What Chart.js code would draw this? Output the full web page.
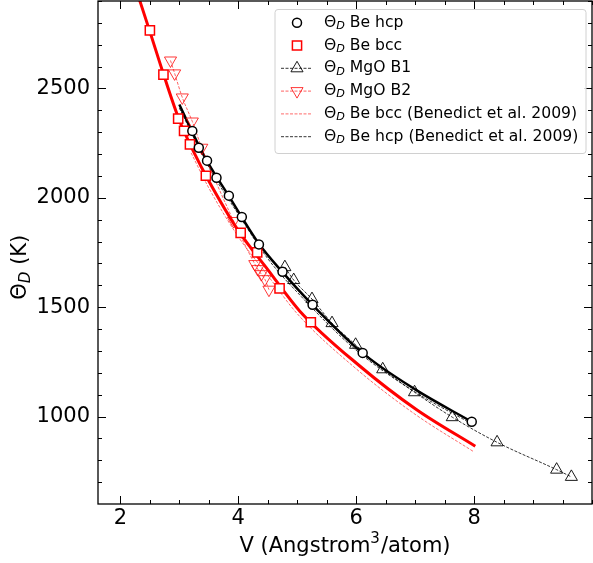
<!DOCTYPE html>
<html>
<head>
<meta charset="utf-8">
<script src="https://cdn.jsdelivr.net/npm/chart.js@4.4.0/dist/chart.umd.min.js"></script>
<style>
  body { margin: 0; background: #fff; }
  canvas { display: block; }
</style>
</head>
<body>
<canvas id="debyeChart" width="593" height="563"></canvas>
<script>
// Be hcp (open circles) and its fit line
const hcpV = [3.22, 3.33, 3.47, 3.63, 3.84, 4.06, 4.35, 4.75, 5.26, 6.11, 7.96];
const hcpTheta = [2306, 2229, 2170, 2092, 2010, 1912, 1787, 1662, 1511, 1291, 976];
const hcpFitV = [3.0, 3.22, 3.47, 3.84, 4.35, 4.75, 5.26, 6.11, 7.0, 7.96];
const hcpFitTheta = [2427, 2300, 2168, 2008, 1790, 1660, 1510, 1290, 1124, 976];

// Be bcc (open squares) and its fit line
const bccV = [2.50, 2.73, 2.98, 3.08, 3.18, 3.45, 4.04, 4.32, 4.70, 5.23];
const bccTheta = [2766, 2563, 2362, 2306, 2244, 2101, 1840, 1751, 1586, 1431];
const bccFitV = [2.27, 2.5, 2.75, 3.0, 3.25, 3.5, 4.0, 4.5, 5.04, 6.06, 7.02, 8.02];
const bccFitTheta = [2950, 2760, 2550, 2355, 2207, 2077, 1850, 1672, 1483, 1231, 1032, 864];

// MgO
const mgoB1V = [4.79, 4.94, 5.25, 5.59, 5.99, 6.45, 6.99, 7.63, 8.39, 9.40, 9.65];
const mgoB1Theta = [1683, 1624, 1537, 1427, 1328, 1216, 1111, 997, 882, 757, 724];
const mgoB2V = [2.85, 2.92, 3.05, 3.22, 3.38, 3.92, 4.28, 4.33, 4.39, 4.45, 4.52];
const mgoB2Theta = [2628, 2569, 2459, 2349, 2229, 1894, 1697, 1674, 1651, 1628, 1580];

// Benedict et al. 2009
const benBccV = [3.2, 3.5, 4.0, 4.5, 5.0, 6.0, 7.0, 8.0];
const benBccTheta = [2205, 2045, 1822, 1645, 1470, 1218, 1010, 838];
const benHcpV = [3.0, 3.5, 4.0, 4.5, 5.0, 6.0, 7.0, 7.95];
const benHcpTheta = [2410, 2140, 1925, 1722, 1568, 1303, 1112, 968];

const xTicks = [2, 4, 6, 8];
const yTicks = [1000, 1500, 2000, 2500];
const legendLabels = ['Be hcp', 'Be bcc', 'MgO B1', 'MgO B2',
  'Be bcc (Benedict et al. 2009)', 'Be hcp (Benedict et al. 2009)'];

const FONT = "'DejaVu Sans', sans-serif";
const pinkRed = 'rgba(255, 0, 0, 0.65)';
const b2Red = 'rgba(255, 0, 0, 0.78)';

function pts(xs, ys) {
  return xs.map((v, i) => ({ x: v, y: ys[i] }));
}

const datasets = [
  { data: pts(hcpV, hcpTheta), showLine: false, pointStyle: 'circle', pointRadius: 4.5,
    borderColor: '#000', backgroundColor: '#fff', pointBorderWidth: 1.5 },
  { data: pts(bccV, bccTheta), showLine: false, pointStyle: 'rect', pointRadius: 6.5,
    borderColor: '#ff0000', backgroundColor: '#fff', pointBorderWidth: 1.5 },
  { data: pts(mgoB1V, mgoB1Theta), showLine: true, pointStyle: 'triangle', pointRadius: 7,
    borderColor: '#000', backgroundColor: 'rgba(0,0,0,0)', borderWidth: 0.8,
    pointBorderWidth: 0.9, borderDash: [3, 1.5] },
  { data: pts(mgoB2V, mgoB2Theta), showLine: true, pointStyle: 'triangle', pointRotation: 180,
    pointRadius: 7, borderColor: b2Red, backgroundColor: 'rgba(0,0,0,0)', borderWidth: 0.8,
    pointBorderWidth: 1, borderDash: [3, 1.5] },
  { data: pts(benBccV, benBccTheta), showLine: true, pointRadius: 0, borderColor: pinkRed,
    borderWidth: 0.9, borderDash: [3, 1.5] },
  { data: pts(benHcpV, benHcpTheta), showLine: true, pointRadius: 0, borderColor: '#000',
    borderWidth: 0.8, borderDash: [3, 1.5] },
  { data: pts(hcpFitV, hcpFitTheta), showLine: true, pointRadius: 0, borderColor: '#000',
    borderWidth: 2.5 },
  { data: pts(bccFitV, bccFitTheta), showLine: true, pointRadius: 0, borderColor: '#ff0000',
    borderWidth: 3 }
];
datasets.forEach(d => { d.tension = 0.4; d.cubicInterpolationMode = 'monotone'; d.fill = false; });

// "Θ" + italic subscript "D" + rest
function drawThetaD(ctx, x, y, size, rest) {
  ctx.font = size + 'px ' + FONT;
  ctx.fillText('\u0398', x, y);
  let w = ctx.measureText('\u0398').width;
  ctx.font = 'italic ' + (size * 0.72).toFixed(1) + 'px ' + FONT;
  ctx.fillText('D', x + w, y + size * 0.22);
  w += ctx.measureText('D').width;
  ctx.font = size + 'px ' + FONT;
  ctx.fillText(rest, x + w, y);
  return w + ctx.measureText(rest).width;
}

const framePlugin = {
  id: 'frameTicks',
  afterDraw(chart) {
    const { ctx, chartArea: a, scales: { x, y } } = chart;
    ctx.save();
    ctx.strokeStyle = '#000';
    ctx.lineWidth = 1;
    ctx.beginPath();
    for (let v = 2; v <= x.max; v += 0.5) {
      const px = Math.round(x.getPixelForValue(v)) + 0.5;
      const len = xTicks.includes(v) ? 8 : 4;
      ctx.moveTo(px, a.bottom); ctx.lineTo(px, a.bottom - len);
      ctx.moveTo(px, a.top); ctx.lineTo(px, a.top + len);
    }
    for (let v = 700; v <= y.max; v += 100) {
      const py = Math.round(y.getPixelForValue(v)) + 0.5;
      const len = yTicks.includes(v) ? 8 : 4;
      ctx.moveTo(a.left, py); ctx.lineTo(a.left + len, py);
      ctx.moveTo(a.right, py); ctx.lineTo(a.right - len, py);
    }
    ctx.stroke();
    ctx.lineWidth = 1.3;
    ctx.strokeRect(a.left, a.top, a.right - a.left, a.bottom - a.top);

    // axis titles
    ctx.fillStyle = '#000';
    ctx.textBaseline = 'middle';
    ctx.textAlign = 'left';
    const xt1 = 'V (Angstrom', xt2 = '/atom)';
    ctx.font = '21px ' + FONT;
    const w1 = ctx.measureText(xt1).width, w3 = ctx.measureText(xt2).width;
    ctx.font = '15px ' + FONT;
    const w2 = ctx.measureText('3').width + 1;
    let tx = (a.left + a.right) / 2 - (w1 + w2 + w3) / 2;
    ctx.font = '21px ' + FONT;
    ctx.fillText(xt1, tx, 547);
    ctx.font = '15px ' + FONT;
    ctx.fillText('3', tx + w1, 539);
    ctx.font = '21px ' + FONT;
    ctx.fillText(xt2, tx + w1 + w2, 547);

    ctx.save();
    ctx.translate(21, 268);
    ctx.rotate(-Math.PI / 2);
    ctx.font = '21px ' + FONT;
    const tw = ctx.measureText('\u0398 (K)').width + 10;
    drawThetaD(ctx, -tw / 2, 0, 21, ' (K)');
    ctx.restore();

    // legend
    const bx = 275, by = 9.5, bw = 311, bh = 144;
    ctx.fillStyle = 'rgba(255,255,255,0.85)';
    ctx.strokeStyle = '#d0d0d0';
    ctx.lineWidth = 1;
    ctx.beginPath();
    ctx.roundRect(bx, by, bw, bh, 3);
    ctx.fill();
    ctx.stroke();
    legendLabels.forEach((lab, i) => {
      const ds = chart.data.datasets[i];
      const ry = 22.7 + i * 22.8;
      if (ds.showLine) {
        ctx.save();
        ctx.strokeStyle = ds.borderColor;
        ctx.lineWidth = ds.borderWidth;
        ctx.setLineDash(ds.borderDash || []);
        ctx.beginPath();
        ctx.moveTo(281, ry); ctx.lineTo(312, ry);
        ctx.stroke();
        ctx.restore();
      }
      if (ds.pointRadius > 0) {
        ctx.save();
        ctx.strokeStyle = ds.borderColor;
        ctx.fillStyle = ds.backgroundColor;
        ctx.lineWidth = ds.pointBorderWidth;
        Chart.helpers.drawPoint(ctx, {
          pointStyle: ds.pointStyle, radius: ds.pointRadius,
          rotation: ds.pointRotation || 0, borderWidth: ds.pointBorderWidth
        }, 297, ry);
        ctx.restore();
      }
      ctx.fillStyle = '#000';
      ctx.textBaseline = 'middle';
      drawThetaD(ctx, 324, ry, 15.6, ' ' + lab);
    });
    ctx.restore();
  }
};

function noPadding(s) {
  s.paddingTop = 0; s.paddingBottom = 0; s.paddingLeft = 0; s.paddingRight = 0;
}

const config = {
  type: 'scatter',
  data: { datasets: datasets },
  options: {
    responsive: false,
    animation: false,
    layout: { autoPadding: false, padding: { top: 1, right: 1, left: 0, bottom: 0 } },
    plugins: { legend: { display: false }, tooltip: { enabled: false } },
    scales: {
      x: {
        type: 'linear', min: 1.62, max: 10,
        grid: { display: false, drawTicks: false }, border: { display: false },
        afterBuildTicks: s => { s.ticks = xTicks.map(v => ({ value: v })); },
        afterFit: s => { s.height = 59; noPadding(s); },
        ticks: { color: '#000', padding: 2, font: { size: 21, family: FONT },
          callback: v => String(v) }
      },
      y: {
        type: 'linear', min: 600, max: 2900,
        grid: { display: false, drawTicks: false }, border: { display: false },
        afterBuildTicks: s => { s.ticks = yTicks.map(v => ({ value: v })); },
        afterFit: s => { s.width = 98; noPadding(s); },
        ticks: { color: '#000', padding: 8, font: { size: 21, family: FONT },
          callback: v => String(v) }
      }
    }
  },
  plugins: [framePlugin]
};

window.onload = function() {
  const ctx = document.getElementById('debyeChart').getContext('2d');
  new Chart(ctx, config);
};
</script>
</body>
</html>
